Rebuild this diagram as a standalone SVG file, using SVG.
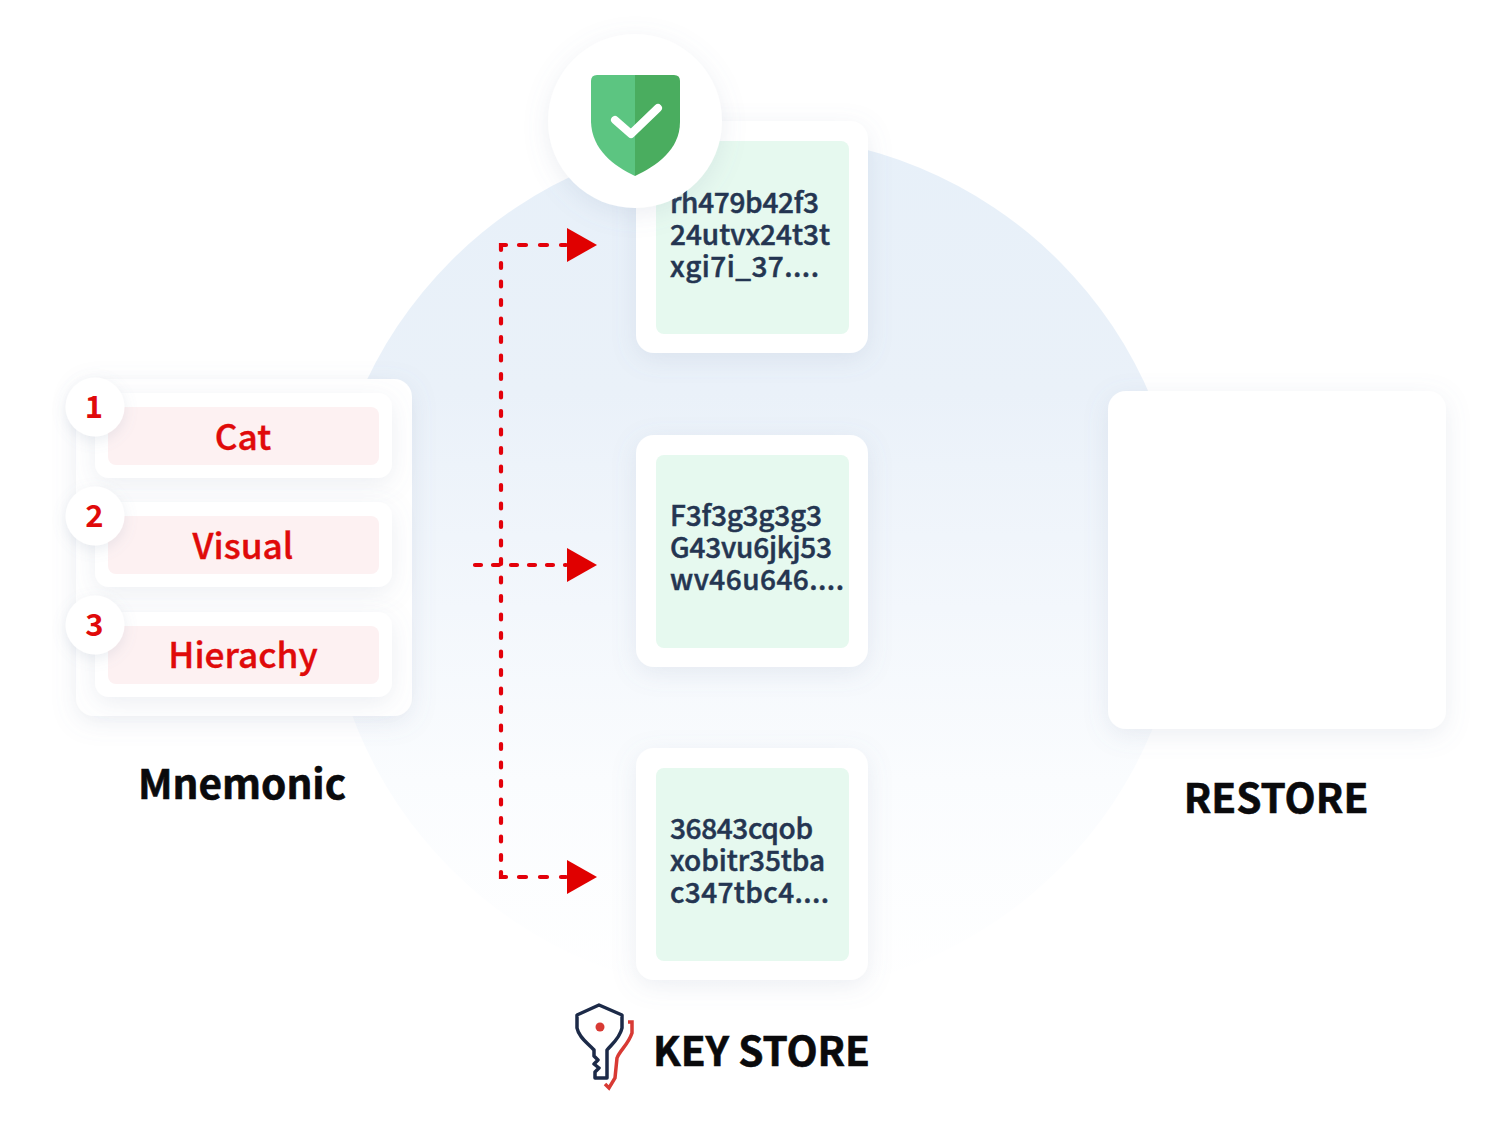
<svg xmlns="http://www.w3.org/2000/svg" width="1495" height="1141" viewBox="0 0 1495 1141">
<defs>
<linearGradient id="bg" x1="0" y1="0" x2="0" y2="1"><stop offset="0" stop-color="#e7f0f9"/><stop offset="0.3" stop-color="#eaf1f9"/><stop offset="0.55" stop-color="#f3f7fc"/><stop offset="0.75" stop-color="#fafcfe"/><stop offset="1" stop-color="#ffffff"/></linearGradient>
<filter id="sh" x="-25%" y="-25%" width="150%" height="155%"><feDropShadow dx="0" dy="6" stdDeviation="12" flood-color="#7c8ca8" flood-opacity="0.14"/></filter>
<filter id="sh2" x="-40%" y="-40%" width="180%" height="190%"><feDropShadow dx="0" dy="4" stdDeviation="7" flood-color="#7c8ca8" flood-opacity="0.16"/></filter>
</defs>
<style>
text{font-family:"Noto Sans CJK KR","Noto Sans",sans-serif}
.card{fill:#fff;filter:url(#sh)}
.key{fill:#e6f9ef}
.code{font-size:28px;font-weight:500;fill:#243551;stroke:#243551;stroke-width:.5}
.pink{fill:#fdf1f2}
.word{font-size:35.3px;font-weight:500;fill:#e00a0a;text-anchor:middle;stroke:#e00a0a;stroke-width:.4}
.num{font-size:31px;font-weight:700;fill:#e00a0a;text-anchor:middle}
.head{font-size:40.500px;font-weight:700;fill:#0a0a0c;text-anchor:middle;stroke:#0a0a0c;stroke-width:.6}
.dash{fill:none;stroke:#e3000a;stroke-width:4.200;stroke-linecap:round}
.tip{fill:#e00000}
</style>
<rect width="1495" height="1141" fill="#fff"/>
<circle id="backdrop" cx="755" cy="565" r="430" fill="url(#bg)"/>
<g id="key-card-1"><rect class="card" x="636" y="121" width="232" height="232" rx="18"/><rect class="key" x="656" y="141" width="193" height="193" rx="8"/>
<text class="code" x="670" y="213" textLength="149">rh479b42f3</text><text class="code" x="670" y="245" textLength="160">24utvx24t3t</text><text class="code" x="670" y="277" textLength="149">xgi7i_37....</text></g>
<g id="key-card-2"><rect class="card" x="636" y="435" width="232" height="232" rx="18"/><rect class="key" x="656" y="455" width="193" height="193" rx="8"/>
<text class="code" x="670" y="526" textLength="152">F3f3g3g3g3</text><text class="code" x="670" y="558" textLength="162">G43vu6jkj53</text><text class="code" x="670" y="590" textLength="174">wv46u646....</text></g>
<g id="key-card-3"><rect class="card" x="636" y="748" width="232" height="232" rx="18"/><rect class="key" x="656" y="768" width="193" height="193" rx="8"/>
<text class="code" x="670" y="839" textLength="143">36843cqob</text><text class="code" x="670" y="871" textLength="155">xobitr35tba</text><text class="code" x="670" y="903" textLength="159">c347tbc4....</text></g>
<g id="shield"><circle cx="635" cy="121" r="87" fill="#fff" filter="url(#sh)"/>
<path d="M597 75H635V176C614 166 592 150 591 122V81Q591 75 597 75Z" fill="#5cc581"/>
<path d="M674 75H635V176C656 166 680 150 680 122V81Q680 75 674 75Z" fill="#4aad5f"/>
<path d="M615 120L631 134L658 108" fill="none" stroke="#fff" stroke-width="8" stroke-linecap="round" stroke-linejoin="round"/></g>
<g id="mnemonic"><rect class="card" x="76" y="379" width="336" height="337" rx="18"/>
<rect class="card" x="95" y="393" width="297" height="85" rx="14"/><rect class="pink" x="108" y="407" width="271" height="58" rx="8"/>
<rect class="card" x="95" y="502" width="297" height="85" rx="14"/><rect class="pink" x="108" y="516" width="271" height="58" rx="8"/>
<rect class="card" x="95" y="612" width="297" height="85" rx="14"/><rect class="pink" x="108" y="626" width="271" height="58" rx="8"/>
<circle cx="95" cy="407" r="29.500" fill="#fff" filter="url(#sh2)"/><text class="num" x="94" y="418">1</text>
<circle cx="95" cy="516" r="29.500" fill="#fff" filter="url(#sh2)"/><text class="num" x="94.500" y="527">2</text>
<circle cx="95" cy="625" r="29.500" fill="#fff" filter="url(#sh2)"/><text class="num" x="94.500" y="636">3</text>
<text class="word" x="243" y="450">Cat</text><text class="word" x="243" y="559">Visual</text><text class="word" x="243" y="668">Hierachy</text>
<text class="head" x="242" y="799">Mnemonic</text></g>
<g id="restore"><rect class="card" x="1108" y="391" width="338" height="338" rx="18"/><text class="head" x="1276" y="813">RESTORE</text></g>
<g id="key-store"><path d="M577 1015L599 1005L622 1015V1028C620 1038 612 1044 607 1050V1078H595V1072L599 1068L594 1064L598 1060L594 1056V1050C588 1043 579 1038 577 1028Z" fill="none" stroke="#1c2a48" stroke-width="3.500" stroke-linejoin="round"/>
<path d="M628 1022H632V1033C628 1045 620 1050 617 1058L615 1078L609 1088L605 1084" fill="none" stroke="#d83a34" stroke-width="3.500"/>
<circle cx="600" cy="1027" r="4.500" fill="#d83a34"/>
<text x="653" y="1066" font-size="40.500" font-weight="700" fill="#0a0a0c" stroke="#0a0a0c" stroke-width=".6" textLength="217">KEY STORE</text></g>
<g id="connectors">
<path class="dash" d="M501 250V245H506"/>
<path class="dash" d="M501 872V877H506"/>
<path class="dash" d="M519 245H566" stroke-dasharray="7 14"/>
<path class="dash" d="M519 877H566" stroke-dasharray="7 14"/>
<path class="dash" d="M501 263V862" stroke-dasharray="5 13.500"/>
<path class="dash" d="M475 565H566" stroke-dasharray="6 12"/>
<path class="tip" d="M567 228L597 245L567 262Z"/>
<path class="tip" d="M567 548L597 565L567 582Z"/>
<path class="tip" d="M567 860L597 877L567 894Z"/>
</g>
</svg>
